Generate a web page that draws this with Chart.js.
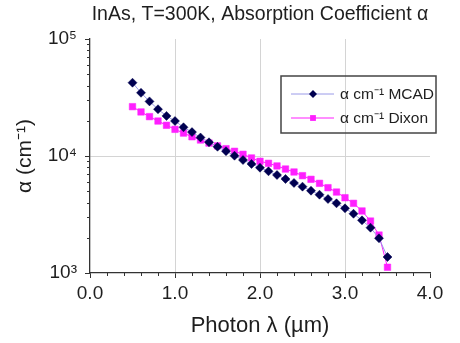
<!DOCTYPE html>
<html>
<head>
<meta charset="utf-8">
<script src="https://cdn.jsdelivr.net/npm/chart.js@4.4.1/dist/chart.umd.min.js"></script>
<style>
  html, body { margin: 0; padding: 0; background: #fff; }
  #wrap { width: 460px; height: 343px; }
</style>
</head>
<body>
<div id="wrap"><canvas id="chartAlpha" width="460" height="343"></canvas></div>
<script>
// Photon wavelength (um) and absorption coefficient (cm^-1)
const photonUm = [0.5, 0.6, 0.7, 0.8, 0.9, 1.0, 1.1, 1.2, 1.3, 1.4, 1.5, 1.6, 1.7, 1.8, 1.9, 2.0,
                  2.1, 2.2, 2.3, 2.4, 2.5, 2.6, 2.7, 2.8, 2.9, 3.0, 3.1, 3.2, 3.3, 3.4, 3.5];
const alphaMCAD = [42300, 34700, 29300, 25100, 22000, 19900, 17600, 16000, 14400, 13100, 12000,
                   11000, 10060, 9240, 8550, 7940, 7400, 6880, 6360, 5880, 5470, 5050, 4670,
                   4290, 3940, 3570, 3210, 2820, 2440, 1980, 1370];
const alphaDixon = [26400, 23800, 21700, 19900, 18300, 16900, 15700, 14600, 13700, 12900, 12200,
                    11550, 10970, 10340, 9620, 9010, 8660, 8220, 7740, 7300, 6790, 6320, 5840,
                    5360, 4920, 4400, 3940, 3390, 2780, 2110, 1120];
const xTicks = [0, 1, 2, 3, 4];
const yTicks = [1000, 10000, 100000];
const yTickLabels = ['10³', '10⁴', '10⁵'];
const seriesNames = ['α cm⁻¹ MCAD', 'α cm⁻¹ Dixon'];

const FONT = 'Arial, "Liberation Sans", Helvetica, sans-serif';
const COLORS = {
    mcadLine: '#9a9ae8',
    mcadPoint: '#000050',
    dixon: '#ff1fff',
    grid: '#d4d4d4',
    axis: '#333333',
    text: '#1e1e1e'
};

// minor ticks on both axes
const minorTicks = {
    id: 'minorTicks',
    afterDraw(chart) {
        const { ctx, scales: { x, y } } = chart;
        ctx.save();
        ctx.strokeStyle = COLORS.axis;
        ctx.lineWidth = 1;
        ctx.beginPath();
        for (let i = 0; i < 20; i++) {
            if (i % 5 === 0) continue;
            const px = Math.round(x.getPixelForValue(i * 0.2)) + 0.5;
            ctx.moveTo(px, y.bottom);
            ctx.lineTo(px, y.bottom + 3);
        }
        [1000, 10000].forEach(d => {
            for (let k = 2; k <= 9; k++) {
                const py = Math.round(y.getPixelForValue(d * k)) + 0.5;
                ctx.moveTo(x.left, py);
                ctx.lineTo(x.left - 3, py);
            }
        });
        ctx.stroke();
        ctx.restore();
    }
};

// legend box with line + marker samples
const boxLegend = {
    id: 'boxLegend',
    afterDraw(chart) {
        const { ctx } = chart;
        const bx = 281, by = 76, bw = 155, bh = 57;
        ctx.save();
        ctx.strokeStyle = '#444';
        ctx.lineWidth = 1.5;
        ctx.strokeRect(bx, by, bw, bh);
        chart.data.datasets.forEach((ds, i) => {
            const ly = by + 18 + i * 24;
            ctx.strokeStyle = ds.borderColor;
            ctx.lineWidth = 1;
            ctx.beginPath();
            ctx.moveTo(bx + 10, ly);
            ctx.lineTo(bx + 53, ly);
            ctx.stroke();
            ctx.fillStyle = ds.pointBackgroundColor;
            Chart.helpers.drawPoint(ctx, {
                pointStyle: ds.pointStyle,
                radius: ds.pointRadius - 0.5,
                borderWidth: 0
            }, bx + 32, ly);
            ctx.fillStyle = COLORS.text;
            ctx.font = '15.5px ' + FONT;
            ctx.textBaseline = 'middle';
            ctx.fillText(seriesNames[i], bx + 59, ly + 1);
        });
        ctx.restore();
    }
};

new Chart(document.getElementById('chartAlpha'), {
    type: 'line',
    data: {
        datasets: [{
            label: seriesNames[0],
            data: photonUm.map((v, i) => ({ x: v, y: alphaMCAD[i] })),
            borderColor: COLORS.mcadLine,
            borderWidth: 1,
            pointStyle: 'rectRot',
            pointRadius: 4.5,
            pointBorderWidth: 0.5,
            pointBackgroundColor: COLORS.mcadPoint,
            pointBorderColor: COLORS.mcadPoint,
            tension: 0
        }, {
            label: seriesNames[1],
            data: photonUm.map((v, i) => ({ x: v, y: alphaDixon[i] })),
            borderColor: COLORS.dixon,
            borderWidth: 1,
            pointStyle: 'rect',
            pointRadius: 4.6,
            pointBorderWidth: 0.5,
            pointBackgroundColor: COLORS.dixon,
            pointBorderColor: COLORS.dixon,
            tension: 0
        }]
    },
    options: {
        responsive: false,
        animation: false,
        layout: { padding: { top: 0, right: 30, bottom: 0, left: 0 } },
        plugins: {
            legend: { display: false },
            tooltip: { enabled: false },
            title: {
                display: true,
                fullSize: false,
                text: 'InAs, T=300K, Absorption Coefficient α',
                color: COLORS.text,
                font: { family: FONT, size: 19.5, weight: 'normal' },
                padding: { top: 3.3, bottom: 12.3 }
            }
        },
        scales: {
            x: {
                type: 'linear',
                min: 0,
                max: 4,
                afterBuildTicks: scale => { scale.ticks = xTicks.map(v => ({ value: v })); },
                afterFit: scale => { scale.height = 70; },
                ticks: {
                    color: COLORS.text,
                    font: { family: FONT, size: 19 },
                    padding: 4.6,
                    maxRotation: 0,
                    callback: v => v.toFixed(1)
                },
                grid: {
                    color: c => (c.tick && c.tick.value > 0 && c.tick.value < 4) ? COLORS.grid : 'rgba(0,0,0,0)',
                    tickColor: COLORS.axis,
                    tickLength: 5,
                    lineWidth: 1
                },
                border: { color: COLORS.axis, width: 1.3 },
                title: {
                    display: true,
                    text: 'Photon λ (µm)',
                    color: COLORS.text,
                    font: { family: FONT, size: 22 },
                    padding: { top: 2, bottom: 3.8 }
                }
            },
            y: {
                type: 'logarithmic',
                min: 1000,
                max: 100000,
                afterBuildTicks: scale => { scale.ticks = yTicks.map(v => ({ value: v })); },
                afterFit: scale => { scale.width = 90; },
                ticks: {
                    color: COLORS.text,
                    font: { family: FONT, size: 19 },
                    padding: 8,
                    callback: v => yTickLabels[yTicks.indexOf(v)]
                },
                grid: {
                    color: c => (c.tick && c.tick.value === 10000) ? COLORS.grid : 'rgba(0,0,0,0)',
                    tickColor: COLORS.axis,
                    tickLength: 5,
                    lineWidth: 1
                },
                border: { color: COLORS.axis, width: 1.3 },
                title: {
                    display: true,
                    text: 'α (cm⁻¹)',
                    color: COLORS.text,
                    font: { family: FONT, size: 21 },
                    padding: { top: 13, bottom: 4 }
                }
            }
        }
    },
    plugins: [minorTicks, boxLegend]
});
</script>
</body>
</html>
